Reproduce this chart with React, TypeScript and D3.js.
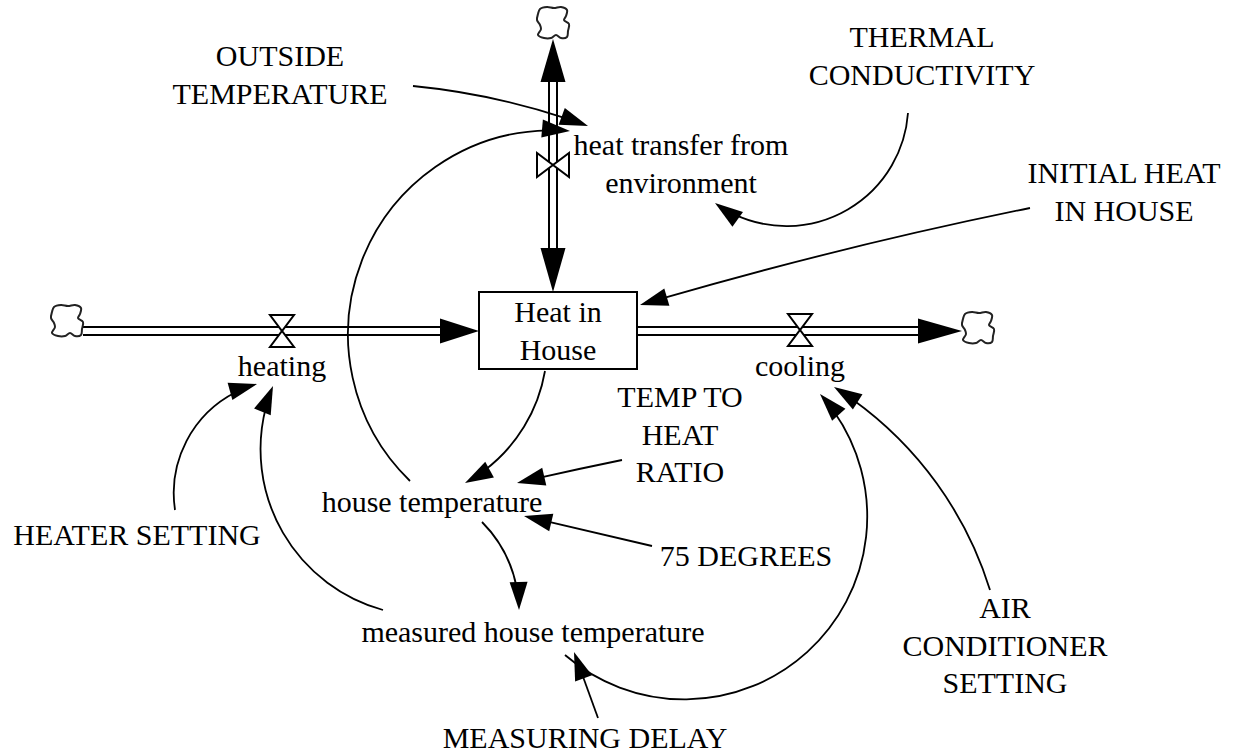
import React from 'react';
import * as d3 from 'd3';

const W = 1256;
const H = 753;
const FONT = '"Liberation Serif", "Times New Roman", Times, serif';
const FS = 30;
const LH = 37.5;

// Variable labels (lines), anchor x and first baseline y
const labelLines: string[][] = [
  ['OUTSIDE', 'TEMPERATURE'],
  ['THERMAL', 'CONDUCTIVITY'],
  ['heat transfer from', 'environment'],
  ['INITIAL HEAT', 'IN HOUSE'],
  ['Heat in', 'House'],
  ['heating'],
  ['cooling'],
  ['TEMP TO', 'HEAT', 'RATIO'],
  ['house temperature'],
  ['HEATER SETTING'],
  ['75 DEGREES'],
  ['AIR', 'CONDITIONER', 'SETTING'],
  ['measured house temperature'],
  ['MEASURING DELAY'],
];
const labelX = [280, 922, 681, 1124, 558, 282, 800, 680, 432, 137, 746, 1005, 533, 585];
const labelY = [66, 47, 155, 183, 322, 376, 376, 407, 512, 545, 566, 618, 642, 748];

// Stock box
const stockBox = [479, 292, 637, 369];

// Clouds (centres)
const cloudCenters: [number, number][] = [
  [67, 321],
  [978, 328],
  [553, 23],
];

// Flow pipes: start, end (arrow base), tip
const pipes: { from: [number, number]; to: [number, number]; tip: [number, number] }[] = [
  { from: [83, 331], to: [440, 331], tip: [479, 331] },
  { from: [637, 331], to: [918, 331], tip: [962, 331] },
  { from: [553, 200], to: [553, 248], tip: [553, 292] },
  { from: [553, 200], to: [553, 82], tip: [553, 39] },
];

// Valves: centre and orientation (h = horizontal pipe)
const valves: { c: [number, number]; h: boolean }[] = [
  { c: [282, 331], h: true },
  { c: [800, 330], h: true },
  { c: [553, 165], h: false },
];

// Influence links: start, a point on the arc, arrow tip
const links: { from: [number, number]; via: [number, number]; to: [number, number] }[] = [
  { from: [413, 86], via: [500, 100], to: [588, 126] },
  { from: [410, 481], via: [348, 335], to: [570, 131] },
  { from: [908, 113], via: [830, 218], to: [715, 203] },
  { from: [1030, 208], via: [835, 252], to: [640, 305] },
  { from: [545, 371], via: [522, 430], to: [465, 483] },
  { from: [622, 460], via: [570, 471], to: [517, 483] },
  { from: [652, 546], via: [588, 531], to: [524, 516] },
  { from: [482, 522], via: [508, 560], to: [519, 610] },
  { from: [383, 610], via: [272, 510], to: [273, 386] },
  { from: [175, 510], via: [186, 442], to: [257, 384] },
  { from: [565, 655], via: [865, 545], to: [820, 394] },
  { from: [990, 590], via: [925, 468], to: [834, 387] },
  { from: [598, 718], via: [586, 685], to: [574, 652] },
];

const HEAD_L = 28;
const HEAD_W = 9;

function linkGeom(p1: [number, number], pm: [number, number], p2: [number, number]) {
  const [x1, y1] = p1;
  const [xm, ym] = pm;
  const [x2, y2] = p2;
  const d = 2 * (x1 * (ym - y2) + xm * (y2 - y1) + x2 * (y1 - ym));
  const path = d3.path();
  let dx: number;
  let dy: number;
  if (Math.abs(d) < 1e-3) {
    const len = Math.hypot(x2 - x1, y2 - y1);
    dx = (x2 - x1) / len;
    dy = (y2 - y1) / len;
    path.moveTo(x1, y1);
    path.lineTo(x2 - dx * HEAD_L * 0.8, y2 - dy * HEAD_L * 0.8);
  } else {
    const s1 = x1 * x1 + y1 * y1;
    const sm = xm * xm + ym * ym;
    const s2 = x2 * x2 + y2 * y2;
    const cx = (s1 * (ym - y2) + sm * (y2 - y1) + s2 * (y1 - ym)) / d;
    const cy = (s1 * (x2 - xm) + sm * (x1 - x2) + s2 * (xm - x1)) / d;
    const r = Math.hypot(x1 - cx, y1 - cy);
    const a1 = Math.atan2(y1 - cy, x1 - cx);
    const am = Math.atan2(ym - cy, xm - cx);
    const a2 = Math.atan2(y2 - cy, x2 - cx);
    const TAU = Math.PI * 2;
    const norm = (a: number) => ((a % TAU) + TAU) % TAU;
    const dEnd = norm(a2 - a1);
    const dMid = norm(am - a1);
    const cw = dMid < dEnd; // increasing angle (clockwise on screen)
    const shrink = (HEAD_L * 0.8) / r;
    const aEnd = cw ? a1 + dEnd - shrink : a1 - (TAU - dEnd) + shrink;
    path.moveTo(x1, y1);
    path.arc(cx, cy, r, a1, aEnd, !cw);
    if (cw) {
      dx = -Math.sin(a2);
      dy = Math.cos(a2);
    } else {
      dx = Math.sin(a2);
      dy = -Math.cos(a2);
    }
  }
  const bx = x2 - dx * HEAD_L;
  const by = y2 - dy * HEAD_L;
  const nx = -dy;
  const ny = dx;
  const head = `M${x2},${y2}L${bx + nx * HEAD_W},${by + ny * HEAD_W}L${bx - nx * HEAD_W},${by - ny * HEAD_W}Z`;
  return { d: path.toString(), head };
}

const cloudShape: [number, number][] = [
  [-13, -14], [-6, -16], [1, -15], [8, -16], [14, -13], [13, -7], [11, -3], [16, 1],
  [15, 8], [14, 14], [8, 15], [3, 12], [-2, 15], [-9, 15], [-15, 12], [-12, 6],
  [-13, 2], [-16, -3], [-15, -9],
];

function cloudPath(c: [number, number]) {
  const line = d3.line<[number, number]>().curve(d3.curveCatmullRomClosed.alpha(0.5));
  return line(cloudShape.map(([x, y]) => [c[0] + x, c[1] + y] as [number, number])) || '';
}

function valvePath(c: [number, number], h: boolean) {
  const [x, y] = c;
  const a = 12;
  const b = 16;
  if (h) {
    return `M${x - a},${y - b}L${x + a},${y - b}L${x},${y}Z M${x - a},${y + b}L${x + a},${y + b}L${x},${y}Z`;
  }
  return `M${x - b},${y - a}L${x - b},${y + a}L${x},${y}Z M${x + b},${y - a}L${x + b},${y + a}L${x},${y}Z`;
}

function flowHead(to: [number, number], tip: [number, number]) {
  const dx = tip[0] - to[0];
  const dy = tip[1] - to[1];
  const len = Math.hypot(dx, dy);
  const nx = -dy / len;
  const ny = dx / len;
  const w = 12.5;
  return `M${tip[0]},${tip[1]}L${to[0] + nx * w},${to[1] + ny * w}L${to[0] - nx * w},${to[1] - ny * w}Z`;
}

export default function App() {
  return (
    <svg
      width={W}
      height={H}
      viewBox={`0 0 ${W} ${H}`}
      style={{ position: 'absolute', left: 0, top: 0, background: '#fff' }}
    >
      <rect x={0} y={0} width={W} height={H} fill="#fff" />
      {pipes.map((p, i) => (
        <g key={'pipe' + i}>
          <line x1={p.from[0]} y1={p.from[1]} x2={p.to[0]} y2={p.to[1]} stroke="#000" strokeWidth={10} />
          <line
            x1={p.from[0]}
            y1={p.from[1]}
            x2={p.to[0] + (p.to[0] === p.from[0] ? 0 : Math.sign(p.to[0] - p.from[0]) * 2)}
            y2={p.to[1] + (p.to[1] === p.from[1] ? 0 : Math.sign(p.to[1] - p.from[1]) * 2)}
            stroke="#fff"
            strokeWidth={6}
          />
          <path d={flowHead(p.to, p.tip)} fill="#000" />
        </g>
      ))}
      {cloudCenters.map((c, i) => (
        <path key={'cloud' + i} d={cloudPath(c)} fill="#fff" stroke="#222" strokeWidth={2} />
      ))}
      <rect
        x={stockBox[0]}
        y={stockBox[1]}
        width={stockBox[2] - stockBox[0]}
        height={stockBox[3] - stockBox[1]}
        fill="#fff"
        stroke="#000"
        strokeWidth={2}
      />
      {valves.map((v, i) => (
        <path key={'valve' + i} d={valvePath(v.c, v.h)} fill="#fff" stroke="#000" strokeWidth={2} strokeLinejoin="miter" />
      ))}
      {links.map((l, i) => {
        const g = linkGeom(l.from, l.via, l.to);
        return (
          <g key={'link' + i}>
            <path d={g.d} fill="none" stroke="#000" strokeWidth={1.8} />
            <path d={g.head} fill="#000" />
          </g>
        );
      })}
      {labelLines.map((lines, i) => (
        <text
          key={'lab' + i}
          x={labelX[i]}
          y={labelY[i]}
          textAnchor="middle"
          fontFamily={FONT}
          fontSize={FS}
          fill="#000"
        >
          {lines.map((t, j) => (
            <tspan key={j} x={labelX[i]} y={labelY[i] + j * LH}>
              {t}
            </tspan>
          ))}
        </text>
      ))}
    </svg>
  );
}
